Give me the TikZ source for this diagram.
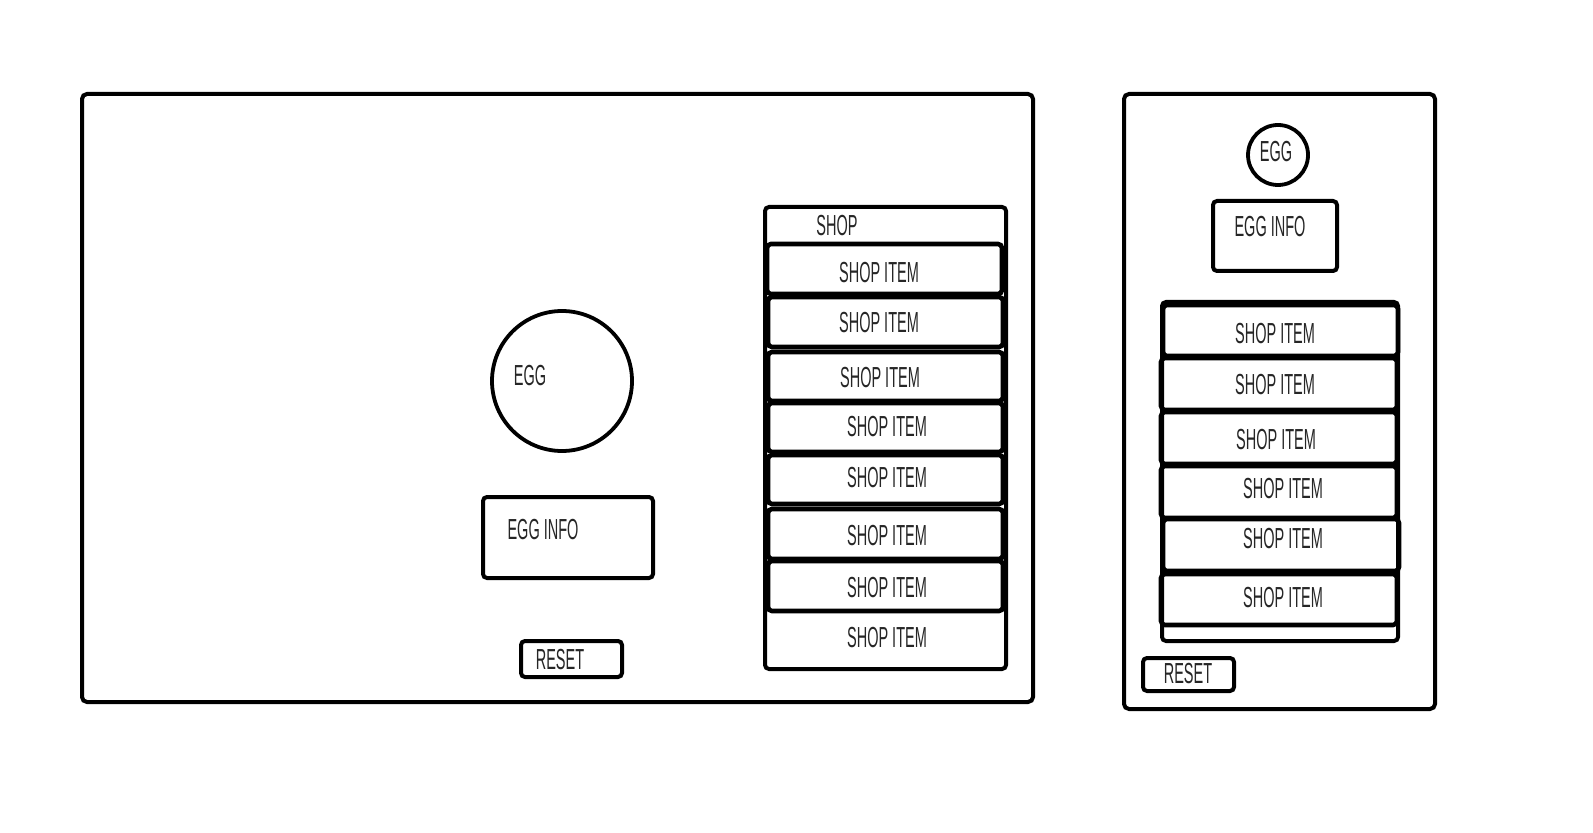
\documentclass[tikz,border=0pt]{standalone}
\usepackage{fontspec}
\setmainfont{Liberation Sans}[FakeStretch=0.5]
\usetikzlibrary{fit}
\begin{document}
\begin{tikzpicture}[x=0.5pt,y=-0.5pt,
  frame/.style={draw=black,line width=2pt,rounded corners=2.5pt,inner sep=0pt},
  box/.style={draw=black,line width=2pt,rounded corners=2pt,inner sep=0pt},
  itembox/.style={draw=black,line width=2.3pt,rounded corners=2pt,inner sep=0pt},
  eggc/.style={draw=black,line width=1.9pt,circle,inner sep=0pt},
  lbl/.style={font=\fontsize{14.5}{14.5}\selectfont,text=black!85,inner sep=0pt}]
\useasboundingbox (0,0) rectangle (1593,833);
% ---------- left (desktop) frame ----------
\node[frame,fit={(82,94)(1033,702)}] (F1) {};
\node[eggc,minimum size=70pt] (egg1) at (562,381) {};
\node[lbl] (egg1t) at (530,376) {EGG};
\node[box,fit={(483,497)(653,578)}] (info1) {};
\node[lbl] (info1t) at (543,530) {EGG INFO};
\node[box,fit={(521,641)(622,677)}] (reset1) {};
\node[lbl] (reset1t) at (560,660) {RESET};
\node[box,fit={(765,207)(1006,669)}] (shop1) {};
\node[lbl] (shop1t) at (837,226) {SHOP};
\node[itembox,fit={(767,244)(1002,294)}] (a1) {};
\node[lbl] at (879,273) {SHOP ITEM};
\node[itembox,fit={(768,297)(1003,347)}] (a2) {};
\node[lbl] at (879,323) {SHOP ITEM};
\node[itembox,fit={(768,352)(1003,401)}] (a3) {};
\node[lbl] at (880,378) {SHOP ITEM};
\node[itembox,fit={(768,403)(1003,452)}] (a4) {};
\node[lbl] at (887,427) {SHOP ITEM};
\node[itembox,fit={(768,455)(1003,504)}] (a5) {};
\node[lbl] at (887,478) {SHOP ITEM};
\node[itembox,fit={(768,509)(1003,559)}] (a6) {};
\node[lbl] at (887,536) {SHOP ITEM};
\node[itembox,fit={(768,561)(1003,611)}] (a7) {};
\node[lbl] at (887,588) {SHOP ITEM};
\node[lbl] (a8) at (887,638) {SHOP ITEM};
% ---------- right (mobile) frame ----------
\node[frame,fit={(1124,94)(1435,709)}] (F2) {};
\node[eggc,minimum size=30pt] (egg2) at (1278,155) {};
\node[lbl] (egg2t) at (1276,152) {EGG};
\node[box,fit={(1213,201)(1337,271)}] (info2) {};
\node[lbl] (info2t) at (1270,227) {EGG INFO};
\node[box,fit={(1162,302)(1398,641)}] (shop2) {};
\node[itembox,fit={(1163,305)(1398,356)}] (b1) {};
\node[lbl] at (1275,334) {SHOP ITEM};
\node[itembox,fit={(1161,358)(1397,410)}] (b2) {};
\node[lbl] at (1275,385) {SHOP ITEM};
\node[itembox,fit={(1161,412)(1397,464)}] (b3) {};
\node[lbl] at (1276,440) {SHOP ITEM};
\node[itembox,fit={(1161,466)(1397,518)}] (b4) {};
\node[lbl] at (1283,489) {SHOP ITEM};
\node[itembox,fit={(1163,519)(1399,571)}] (b5) {};
\node[lbl] at (1283,539) {SHOP ITEM};
\node[itembox,fit={(1161,574)(1397,625)}] (b6) {};
\node[lbl] at (1283,598) {SHOP ITEM};
\node[box,fit={(1143,658)(1234,691)}] (reset2) {};
\node[lbl] (reset2t) at (1188,674) {RESET};
\end{tikzpicture}
\end{document}
